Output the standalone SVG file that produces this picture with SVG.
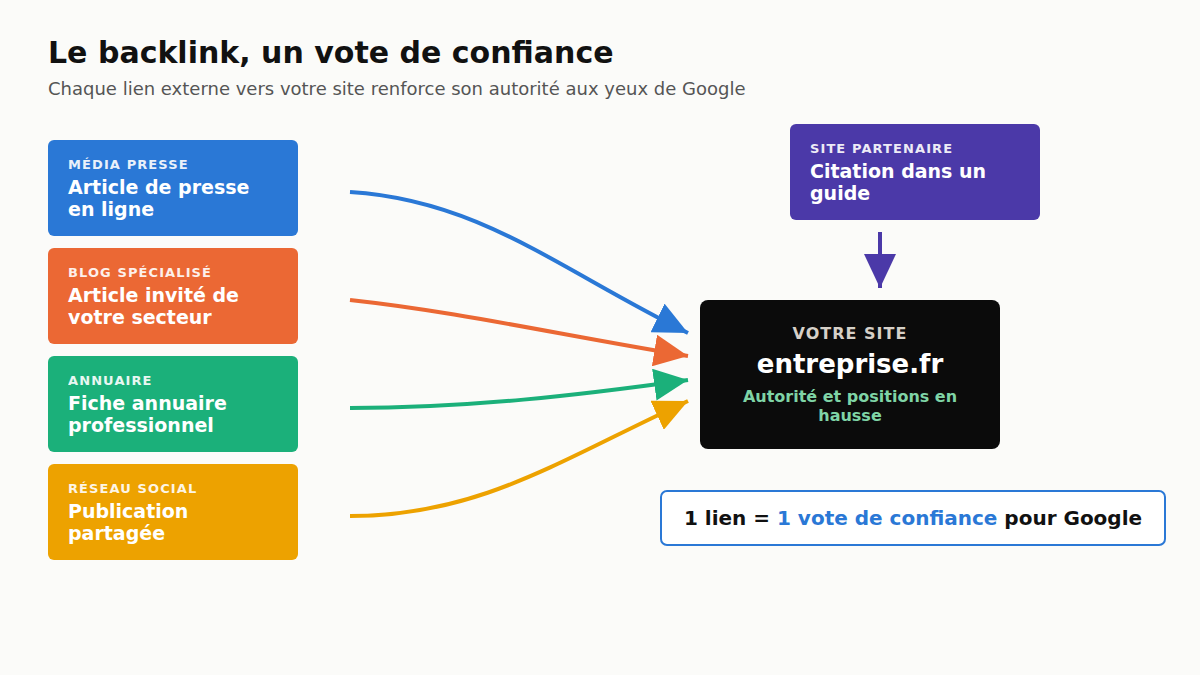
<svg xmlns="http://www.w3.org/2000/svg" width="1200" height="675" viewBox="0 0 1200 675">
<style>
text{font-family:"DejaVu Sans",sans-serif}
.cat{font-size:13px;font-weight:bold;fill:#fff;letter-spacing:1.1px;opacity:0.9}
.lbl{font-size:19px;font-weight:bold;fill:#fff}
.ln{fill:none;stroke-width:4}
</style>
<defs>
<marker id="mb" markerUnits="userSpaceOnUse" markerWidth="36" markerHeight="32" refX="34" refY="16" orient="auto"><path d="M0,0 L34,16 L0,32 z" fill="#2a78d6"/></marker>
<marker id="mo" markerUnits="userSpaceOnUse" markerWidth="36" markerHeight="32" refX="34" refY="16" orient="auto"><path d="M0,0 L34,16 L0,32 z" fill="#eb6834"/></marker>
<marker id="mg" markerUnits="userSpaceOnUse" markerWidth="36" markerHeight="32" refX="34" refY="16" orient="auto"><path d="M0,0 L34,16 L0,32 z" fill="#1bb07a"/></marker>
<marker id="my" markerUnits="userSpaceOnUse" markerWidth="36" markerHeight="32" refX="34" refY="16" orient="auto"><path d="M0,0 L34,16 L0,32 z" fill="#eda200"/></marker>
<marker id="mp" markerUnits="userSpaceOnUse" markerWidth="36" markerHeight="32" refX="34" refY="16" orient="auto"><path d="M0,0 L34,16 L0,32 z" fill="#4b39a8"/></marker>
</defs>
<rect width="1200" height="675" fill="#fbfbf9"/>
<text x="48" y="63" font-size="30" font-weight="bold" fill="#111">Le backlink, un vote de confiance</text>
<text x="48" y="95" font-size="18" fill="#555">Chaque lien externe vers votre site renforce son autorité aux yeux de Google</text>
<g id="n-presse"><rect x="48" y="140" width="250" height="96" rx="6" fill="#2a78d6"/><text x="68" y="169" class="cat">MÉDIA PRESSE</text><text x="68" y="194" class="lbl">Article de presse</text><text x="68" y="216" class="lbl">en ligne</text></g>
<g id="n-blog"><rect x="48" y="248" width="250" height="96" rx="6" fill="#eb6834"/><text x="68" y="277" class="cat">BLOG SPÉCIALISÉ</text><text x="68" y="302" class="lbl">Article invité de</text><text x="68" y="324" class="lbl">votre secteur</text></g>
<g id="n-annuaire"><rect x="48" y="356" width="250" height="96" rx="6" fill="#1bb07a"/><text x="68" y="385" class="cat">ANNUAIRE</text><text x="68" y="410" class="lbl">Fiche annuaire</text><text x="68" y="432" class="lbl">professionnel</text></g>
<g id="n-social"><rect x="48" y="464" width="250" height="96" rx="6" fill="#eda200"/><text x="68" y="493" class="cat">RÉSEAU SOCIAL</text><text x="68" y="518" class="lbl">Publication</text><text x="68" y="540" class="lbl">partagée</text></g>
<g id="n-partenaire"><rect x="790" y="124" width="250" height="96" rx="6" fill="#4b39a8"/><text x="810" y="153" class="cat">SITE PARTENAIRE</text><text x="810" y="178" class="lbl">Citation dans un</text><text x="810" y="200" class="lbl">guide</text></g>
<g id="n-site"><rect x="700" y="300" width="300" height="149" rx="8" fill="#0b0b0b"/><text x="850" y="339" text-anchor="middle" font-size="16" font-weight="bold" fill="#d6d0c8" letter-spacing="1">VOTRE SITE</text><text x="850" y="373" text-anchor="middle" font-size="26" font-weight="bold" fill="#fff">entreprise.fr</text><text x="850" y="402" text-anchor="middle" font-size="16" font-weight="bold" fill="#7fd4a6">Autorité et positions en</text><text x="850" y="421" text-anchor="middle" font-size="16" font-weight="bold" fill="#7fd4a6">hausse</text></g>
<g id="n-note"><rect x="661" y="491" width="504" height="54" rx="6" fill="#fff" stroke="#2a78d6" stroke-width="2"/><text x="913" y="525" text-anchor="middle" font-size="20" font-weight="bold" fill="#111">1 lien = <tspan fill="#2a78d6">1 vote de confiance</tspan> pour Google</text></g>
<g id="connectors">
<path class="ln" stroke="#2a78d6" marker-end="url(#mb)" d="M350,192 C480,200 560,270 688,333"/>
<path class="ln" stroke="#eb6834" marker-end="url(#mo)" d="M350,300 C460,312 560,335 688,356"/>
<path class="ln" stroke="#1bb07a" marker-end="url(#mg)" d="M350,408 C470,408 580,395 688,380"/>
<path class="ln" stroke="#eda200" marker-end="url(#my)" d="M350,516 C480,516 560,460 688,401"/>
<path class="ln" stroke="#4b39a8" marker-end="url(#mp)" d="M880,232 L880,288"/>
</g>
</svg>
